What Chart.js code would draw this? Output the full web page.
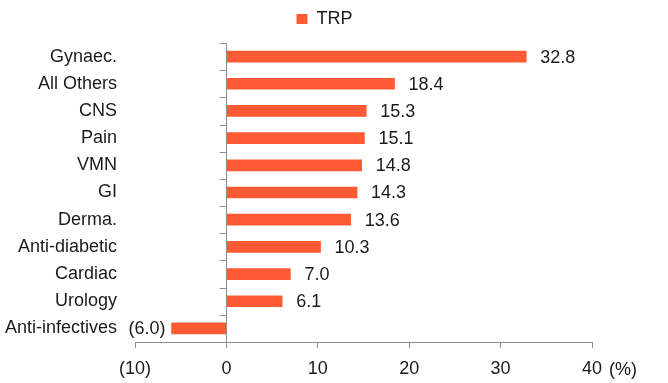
<!DOCTYPE html>
<html><head><meta charset="utf-8">
<script src="https://cdn.jsdelivr.net/npm/chart.js@4/dist/chart.umd.min.js"></script>
<style>html,body{margin:0;padding:0;background:#fff;}#wrap{width:668px;height:383px;}</style>
</head><body><div id="wrap"><canvas id="c" width="668" height="383"></canvas></div>
<script>
const categories = ['Gynaec.','All Others','CNS','Pain','VMN','GI','Derma.','Anti-diabetic','Cardiac','Urology','Anti-infectives'];
const trpValues = [32.8,18.4,15.3,15.1,14.8,14.3,13.6,10.3,7.0,6.1,-6.0];
const seriesName = 'TRP';
const xMin = -10, xMax = 40, xStep = 10;
const unitLabel = '(%)';

const FONT = "'Liberation Sans',Arial,sans-serif";
const FS = 18;
const TXT = '#1a1a1a';
const AXC = '#8f8f8f';
const fmt = v => v < 0 ? '(' + Math.abs(v).toFixed(1) + ')' : v.toFixed(1);
const fmtTick = v => v < 0 ? '(' + Math.abs(v) + ')' : String(v);

const legendTweak = {
  id: 'legendTweak',
  beforeInit(chart) {
    const lg = chart.legend;
    const fit = lg.fit;
    lg.fit = function () { fit.call(this); this.height = 43; };
  },
  afterLayout(chart) {
    // centre the legend over the plotting area instead of the whole canvas
    chart.legend.left += 57;
  }
};

const extras = {
  id: 'extras',
  afterDatasetsDraw(chart) {
    const ctx = chart.ctx, x = chart.scales.x, y = chart.scales.y;
    const ca = chart.chartArea;
    ctx.save();
    const x0 = Math.round(x.getPixelForValue(0)) + 0.5;
    ctx.strokeStyle = AXC; ctx.lineWidth = 1;
    ctx.beginPath(); ctx.moveTo(x0, ca.top); ctx.lineTo(x0, ca.bottom); ctx.stroke();
    const n = categories.length;
    const step = y.getPixelForValue(1) - y.getPixelForValue(0);
    for (let i = 0; i < n; i++) {
      const yy = Math.round(y.getPixelForValue(i) - step / 2) + 0.5;
      ctx.beginPath(); ctx.moveTo(x0 - 7, yy); ctx.lineTo(x0, yy); ctx.stroke();
    }
    ctx.fillStyle = TXT;
    ctx.font = FS + 'px ' + FONT;
    ctx.textBaseline = 'middle';
    const meta = chart.getDatasetMeta(0);
    meta.data.forEach((bar, i) => {
      const v = trpValues[i];
      if (v >= 0) { ctx.textAlign = 'left'; ctx.fillText(fmt(v), bar.x + 14, bar.y + 1); }
      else { ctx.textAlign = 'right'; ctx.fillText(fmt(v), bar.x - 6, bar.y + 1); }
    });
    ctx.textAlign = 'left';
    ctx.fillText(unitLabel, x.getPixelForValue(xMax) + 17, ca.bottom + 28);
    ctx.restore();
  }
};

new Chart(document.getElementById('c'), {
  type: 'bar',
  data: { labels: categories, datasets: [{ label: seriesName, data: trpValues, backgroundColor: '#FF5A33', borderWidth: 0, barThickness: 11 }] },
  options: {
    indexAxis: 'y', responsive: false, animation: false, devicePixelRatio: 1,
    layout: { padding: { top: 0, right: 76, bottom: 0, left: 0 } },
    plugins: {
      tooltip: { enabled: false },
      legend: { position: 'top', labels: { boxWidth: 11, boxHeight: 10, padding: 10, color: TXT, font: { size: FS, family: FONT } } }
    },
    scales: {
      x: {
        min: xMin, max: xMax,
        ticks: { stepSize: xStep, callback: v => fmtTick(v), color: TXT, font: { size: FS, family: FONT }, padding: 10, maxRotation: 0 },
        grid: { drawOnChartArea: false, drawTicks: true, tickLength: 6, color: AXC },
        border: { display: true, color: AXC },
        afterFit(s) { s.height = 41; }
      },
      y: {
        ticks: { color: TXT, font: { size: FS, family: FONT }, padding: 18 },
        grid: { display: false, drawTicks: false },
        border: { display: false },
        afterFit(s) { s.width = 135; }
      }
    }
  },
  plugins: [legendTweak, extras]
});
</script></body></html>
